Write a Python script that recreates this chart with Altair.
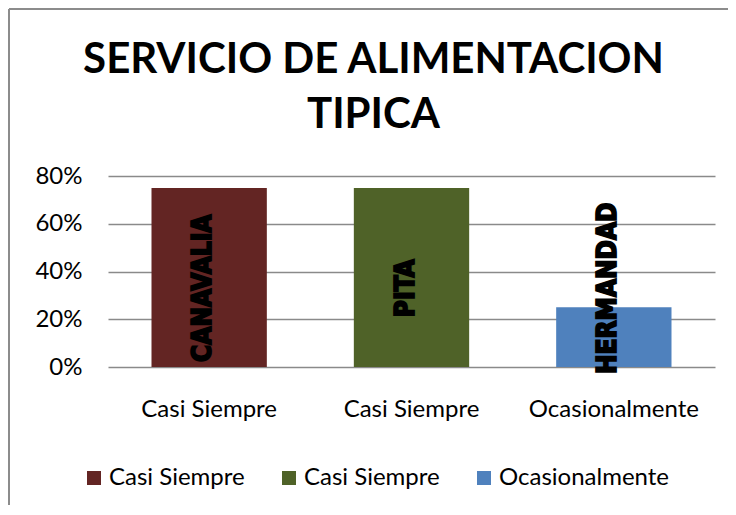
import altair as alt
import pandas as pd

# ---- data ----
places = ["CANAVALIA", "PITA", "HERMANDAD"]
frequency = ["Casi Siempre", "Casi Siempre", "Ocasionalmente"]
values = [0.75, 0.75, 0.25]
colors = ["#632523", "#4F6228", "#4F81BD"]
y_ticks = [0, 0.2, 0.4, 0.6, 0.8]
title_lines = ["SERVICIO DE ALIMENTACION", "TIPICA"]

df = pd.DataFrame({"place": places, "freq": frequency, "value": values})

# label expression: place -> frequency text
expr = ""
for p, f in zip(places, frequency):
    expr += f"datum.value == '{p}' ? '{f}' : "
expr += "''"

FONT = "Lato"
GRID = "#8a8a8a"

base = alt.Chart(df)

bars = base.mark_bar().encode(
    x=alt.X(
        "place:N",
        sort=places,
        scale=alt.Scale(paddingInner=0.43, paddingOuter=0.215),
        axis=alt.Axis(
            title=None, labelExpr=expr, labelAngle=0, ticks=False, domain=False,
            labelFont=FONT, labelFontSize=24, labelColor="#000000", labelPadding=30,
            labelLimit=300,
        ),
    ),
    y=alt.Y(
        "value:Q",
        scale=alt.Scale(domain=[0, 0.8]),
        axis=alt.Axis(
            title=None, format=".0%", values=y_ticks, ticks=False, domain=False,
            gridColor=GRID, gridWidth=1.5, gridOpacity=1,
            labelFont=FONT, labelFontSize=24, labelColor="#000000", labelPadding=26,
        ),
    ),
    color=alt.Color(
        "place:N",
        sort=places,
        scale=alt.Scale(domain=places, range=colors),
        legend=alt.Legend(
            title=None, orient="none", direction="horizontal",
            legendX=-26, legendY=290,
            labelExpr=expr, labelFont=FONT, labelFontSize=24, labelColor="#000000",
            labelLimit=300, symbolType="square", symbolSize=196, symbolStrokeWidth=0,
            labelOffset=3, columnPadding=32,
        ),
    ),
)

labels = base.mark_text(
    angle=270, font="'DejaVu Sans Condensed', 'DejaVu Sans', sans-serif",
    fontSize=26, fontWeight="bold", color="#000000", stroke="#000000", strokeWidth=1.8,
    baseline="middle", align="center", dy=-6,
).encode(
    x=alt.X("place:N", sort=places),
    y=alt.datum(0.33),
    text="place:N",
)

border_df = pd.DataFrame({"k": [0]})
top_border = alt.Chart(border_df).mark_rule(color="#8c8c8c", strokeWidth=2, clip=False).encode(
    x=alt.value(-99), x2=alt.value(620), y=alt.value(-167)
)
left_border = alt.Chart(border_df).mark_rule(color="#8c8c8c", strokeWidth=2, clip=False).encode(
    x=alt.value(-99), y=alt.value(-167), y2=alt.value(340)
)

chart = alt.layer(bars, labels, top_border, left_border).properties(
    width=607,
    height=191,
    title=alt.Title(
        title_lines, font=FONT, fontSize=42, fontWeight="bold", color="#000000",
        lineHeight=55, anchor="middle", dx=-38, offset=-129,
    ),
    autosize=alt.AutoSizeParams(type="none"),
    padding={"left": 100, "top": 168, "right": 13, "bottom": 138},
    background="white",
).configure_view(stroke=None)

chart.save("out.html", embed_options={"renderer": "svg", "actions": False})
